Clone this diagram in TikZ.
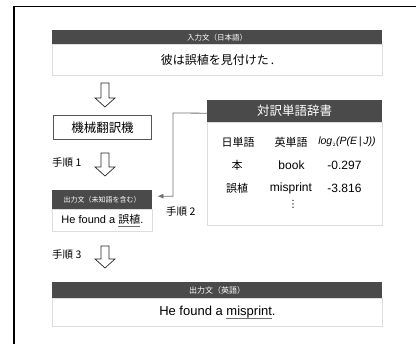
\documentclass[tikz,border=0pt]{standalone}
\usepackage{fontspec}
\setmainfont{Liberation Sans}
\newfontfamily\jp{Noto Sans CJK JP}
\newfontfamily\dejavu{DejaVu Sans}
\usetikzlibrary{arrows.meta}
\definecolor{hdrgray}{HTML}{4A4A4A}
\definecolor{bodyline}{HTML}{DDDDDD}
\definecolor{linegray}{HTML}{707070}
\definecolor{boxline}{HTML}{555555}
\newcommand\myul[1]{\setbox0\hbox{#1}\rlap{\color{linegray}\rule[-2.8pt]{\wd0}{0.7pt}}\box0}
\newcommand\fs[1]{\fontsize{#1}{#1}\selectfont}
\begin{document}
\begin{tikzpicture}[x=1pt,y=-1pt,
  hdr/.style={fill=hdrgray,text=white,inner sep=0pt,anchor=north west,font=\jp\fs{7.5}},
  bodybox/.style={draw=bodyline,line width=0.9pt,fill=white,inner sep=0pt,anchor=north west},
  mtbox/.style={draw=boxline,line width=1pt,inner sep=0pt,anchor=north west,font=\jp\fs{12.5}},
  steplabel/.style={anchor=west,inner sep=0pt,font=\jp\fs{10.5}},
  jcell/.style={inner sep=0pt,font=\jp\fs{11}},
  ecell/.style={inner sep=0pt,font=\fs{12}},
  harr/.style={draw=black!85,line width=0.7pt,fill=white,line join=miter},
  conn/.style={draw=linegray,line width=0.8pt,-{Latex[length=6pt,width=5pt]}}
]
\useasboundingbox (0,0) rectangle (416,344);
% outer frame
\draw[line width=1.2pt] (14,350) -- (14,6.5) -- (420,6.5);

% input sentence
\node[bodybox,minimum width=330pt,minimum height=31pt,font=\jp\fs{12}] (inbody) at (52,44) {彼は誤植を見付けた\,.};
\node[hdr,minimum width=330pt,minimum height=14pt] (inhead) at (52,30) {入力文（日本語）};

% machine translation box
\node[mtbox,minimum width=98pt,minimum height=24pt] (mt) at (53,115) {機械翻訳機};

% output with unknown word
\node[bodybox,minimum width=100pt,minimum height=22pt,font=\fs{11}] (unkbody) at (52,209) {He found a \myul{\jp 誤植}.};
\node[hdr,minimum width=100pt,minimum height=19pt,font=\jp\fs{7}] (unkhead) at (52,190) {出力文（未知語を含む）};

% dictionary
\node[bodybox,minimum width=175pt,minimum height=103pt] (dictbody) at (207,122) {};
\node[hdr,minimum width=175pt,minimum height=22pt,font=\jp\fs{12.5}] (dicthead) at (207,100) {対訳単語辞書};
\node[jcell] (h1) at (238,142) {日単語};
\node[jcell] (h2) at (291,142) {英単語};
\node[inner sep=0pt,font=\itshape\fs{10.5}] (h3) at (347,142) {log$_{\scriptscriptstyle 2}$(P(E\,|\,J))};
\node[jcell] (r11) at (237,165) {本};
\node[ecell] (r12) at (291.5,165) {book};
\node[ecell] (r13) at (344.5,165) {-0.297};
\node[jcell] (r21) at (237,188) {誤植};
\node[ecell] (r22) at (291,188) {misprint};
\node[ecell] (r23) at (344.5,188) {-3.816};
\node[inner sep=0pt,font=\dejavu\fs{10}] (vd) at (293,204) {⋮};

% final output
\node[bodybox,minimum width=330pt,minimum height=28pt,font=\fs{13}] (outbody) at (52,298) {He found a \myul{misprint}.};
\node[hdr,minimum width=330pt,minimum height=16pt,font=\jp\fs{8}] (outhead) at (52,282) {出力文（英語）};

% step labels
\node[steplabel] (s1) at (52,163) {手順 1};
\node[steplabel] (s2) at (166,212) {手順 2};
\node[steplabel] (s3) at (52,255) {手順 3};

% hollow arrows
\draw[harr] (105,83) ++(-4,0) -- ++(8,0) -- ++(0,15) -- ++(6,0) -- ++(-10,9) -- ++(-10,-9) -- ++(6,0) -- cycle;
\draw[harr] (105,153) ++(-4,0) -- ++(8,0) -- ++(0,14) -- ++(6,0) -- ++(-10,9) -- ++(-10,-9) -- ++(6,0) -- cycle;
\draw[harr] (105,246) ++(-4,0) -- ++(8,0) -- ++(0,13) -- ++(6,0) -- ++(-10,9) -- ++(-10,-9) -- ++(6,0) -- cycle;

% connector from dictionary to output
\coordinate (bend) at (173,113);
\draw[conn] ([yshift=-2pt]dicthead.west) -- (bend) |- ([xshift=5pt,yshift=3.5pt]unkhead.east);
\end{tikzpicture}
\end{document}
